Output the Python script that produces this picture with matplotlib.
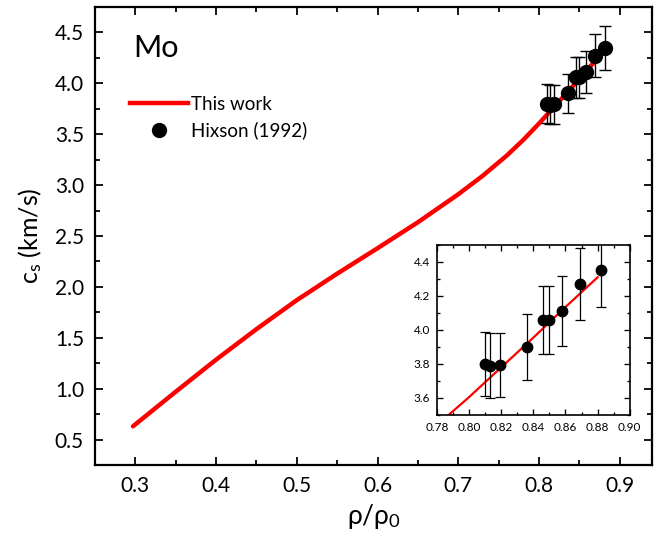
#!/usr/bin/env python3
import numpy as np
import matplotlib
matplotlib.use('Agg')
import matplotlib.pyplot as plt
from matplotlib.lines import Line2D
from matplotlib.ticker import MultipleLocator

plt.rcParams['font.family'] = ['Lato', 'DejaVu Sans']
plt.rcParams['mathtext.fontset'] = 'custom'
plt.rcParams['mathtext.rm'] = 'Lato'
plt.rcParams['mathtext.it'] = 'Lato:italic'

# this work (calculated curve)
rho_calc = [0.297, 0.35, 0.40, 0.45, 0.50, 0.55, 0.60, 0.65, 0.70, 0.73,
            0.76, 0.78, 0.80, 0.82, 0.84, 0.86, 0.88]
cs_calc = [0.63, 0.97, 1.285, 1.585, 1.87, 2.13, 2.38, 2.635, 2.91, 3.09,
           3.29, 3.44, 3.605, 3.78, 3.955, 4.135, 4.31]

# Hixson (1992)
rho_exp = [0.810, 0.813, 0.819, 0.836, 0.846, 0.8495, 0.8577, 0.8693, 0.882]
cs_exp = [3.80, 3.79, 3.795, 3.90, 4.06, 4.06, 4.11, 4.27, 4.35]
cs_err = [0.19, 0.19, 0.19, 0.195, 0.20, 0.20, 0.205, 0.21, 0.215]


def style_axes(ax, lw, length, minor_len, size):
    for s in ax.spines.values():
        s.set_linewidth(lw)
    ax.tick_params(which='both', direction='in', top=True, right=True, width=lw * 0.8)
    ax.tick_params(which='major', length=length, labelsize=size)
    ax.tick_params(which='minor', length=minor_len)


fig = plt.figure(figsize=(6.54, 5.33), dpi=100)
ax = fig.add_axes([0.1453, 0.1276, 0.8517, 0.8593])

ax.plot(rho_calc, cs_calc, color='#ff0000', lw=3.2, solid_capstyle='round',
        solid_joinstyle='round')
ax.errorbar(rho_exp, cs_exp, yerr=cs_err, fmt='o', color='black', ms=10,
            ecolor='black', elinewidth=1, capsize=4, capthick=1)

ax.set_xlim(0.25, 0.94)
ax.set_ylim(0.25, 4.75)
ax.xaxis.set_major_locator(MultipleLocator(0.1))
ax.xaxis.set_minor_locator(MultipleLocator(0.05))
ax.yaxis.set_major_locator(MultipleLocator(0.5))
ax.yaxis.set_minor_locator(MultipleLocator(0.25))
style_axes(ax, 1.6, 6, 3.5, 15)
ax.tick_params(which='major', pad=8)

ax.set_xlabel('ρ/ρ$_0$', fontsize=19, labelpad=4)
ax.set_ylabel(r'$\mathrm{c_s}$ (km/s)', fontsize=18, labelpad=8)

ax.text(0.068, 0.91, 'Mo', transform=ax.transAxes, fontsize=22,
        va='center', ha='left')

handles = [Line2D([], [], color='#ff0000', lw=3.2),
           Line2D([], [], color='black', marker='o', ls='none', ms=10)]
labels = ['This work', 'Hixson (1992)']
ax.legend(handles, labels, loc='upper left', bbox_to_anchor=(0.032, 0.843),
          frameon=False, fontsize=13.5, handlelength=3.1, handletextpad=0.15,
          labelspacing=0.45)

# inset
ins = fig.add_axes([0.668, 0.2214, 0.295, 0.319])
ins.plot(rho_calc, cs_calc, color='#ff0000', lw=1.6)
ins.errorbar(rho_exp, cs_exp, yerr=cs_err, fmt='o', color='black', ms=7.5,
             ecolor='black', elinewidth=0.9, capsize=3.5, capthick=0.9)
ins.set_xlim(0.78, 0.90)
ins.set_ylim(3.5, 4.5)
ins.xaxis.set_major_locator(MultipleLocator(0.02))
ins.xaxis.set_minor_locator(MultipleLocator(0.01))
ins.yaxis.set_major_locator(MultipleLocator(0.2))
ins.yaxis.set_minor_locator(MultipleLocator(0.1))
style_axes(ins, 1.2, 4.5, 2.5, 8.5)
ins.tick_params(which='major', pad=5)

fig.savefig('out.png', dpi=100)
